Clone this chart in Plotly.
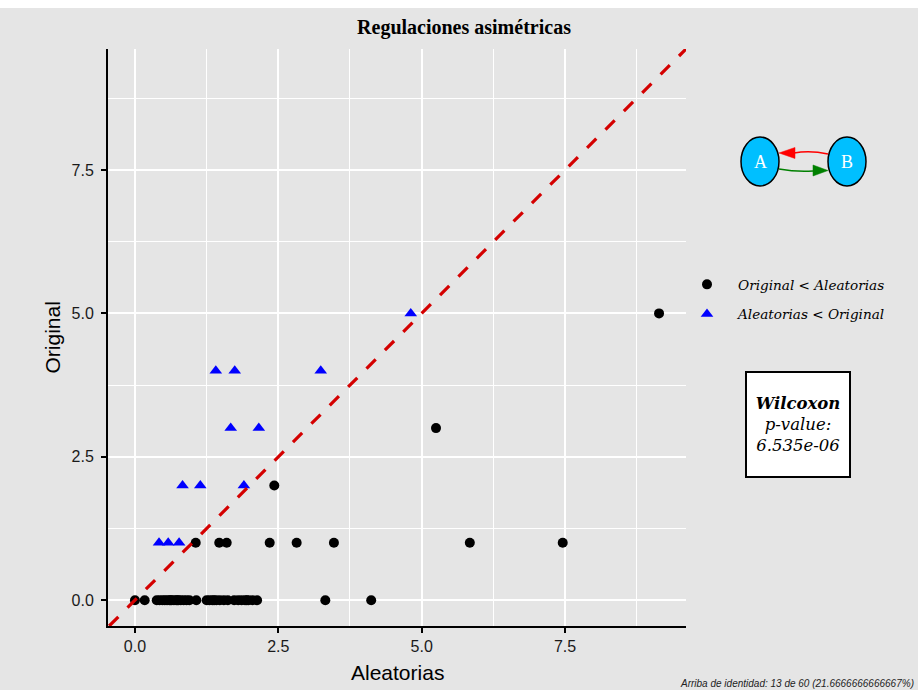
import plotly.graph_objects as go

# Points where the original count is below the randomised mean
orig_menor_x = [0.0, 0.17, 0.38, 0.43, 0.48, 0.52, 0.56, 0.60, 0.62, 0.64, 0.68, 0.72,
                0.74, 0.76, 0.80, 0.85, 0.90, 0.95, 1.07, 1.25, 1.30, 1.35, 1.38, 1.42,
                1.48, 1.55, 1.62, 1.73, 1.80, 1.86, 1.92, 1.95, 1.98, 2.05, 2.13, 3.32,
                4.12,
                1.06, 1.47, 1.60, 2.35, 2.82, 3.47, 5.84, 7.46,
                2.43, 5.25, 9.14]
orig_menor_y = [0] * 37 + [1] * 8 + [2, 3, 5]

# Points where the randomised mean is below the original count
alea_menor_x = [0.42, 0.58, 0.77, 0.83, 1.14, 1.90, 1.67, 2.16, 1.41, 1.74, 3.24, 4.81]
alea_menor_y = [1, 1, 1, 2, 2, 2, 3, 3, 4, 4, 4, 5]

# identity line across the panel
identidad = [-0.45, 9.61]
ticks_mayores = [0, 2.5, 5, 7.5]

titulo = "Regulaciones asimétricas"
nota = "Arriba de identidad: 13 de 60 (21.6666666666667%)"
wilcoxon = "<b><i>Wilcoxon</i></b><br><i>p-value:</i><br><i>6.535e-06</i>"

W, H = 918, 690
L, R, T, B = 108, 686, 49, 626


def px(xp):
    return (xp - L) / (R - L)


def py(yp):
    return (B - yp) / (B - T)


fig = go.Figure()

fig.add_trace(go.Scatter(
    x=orig_menor_x, y=orig_menor_y, mode="markers",
    name="<i>Original < Aleatorias</i>", legendgroup="a",
    marker=dict(symbol="circle", size=10, color="black"),
))
fig.add_trace(go.Scatter(
    x=alea_menor_x, y=alea_menor_y, mode="markers",
    name="<i>Aleatorias < Original</i>", legendgroup="b",
    marker=dict(symbol="triangle-up", size=11, color="#0000FF"),
))
fig.add_trace(go.Scatter(
    x=identidad, y=identidad, mode="lines", showlegend=False,
    line=dict(color="#D40000", width=3.2, dash="13px,13px"),
    hoverinfo="skip",
))

grid = dict(showgrid=True, gridcolor="white", gridwidth=1.6,
            minor=dict(showgrid=True, gridcolor="white", gridwidth=1.1, dtick=1.25),
            zeroline=False, showline=True, linecolor="black", linewidth=2,
            ticks="outside", ticklen=5, tickcolor="black", tickwidth=1.5,
            tickvals=ticks_mayores, tickformat=".1f",
            tickfont=dict(family="Liberation Sans", size=16, color="#1a1a1a"))

fig.update_xaxes(range=[-0.47, 9.61], **grid)
fig.update_yaxes(range=[-0.45, 9.61], ticklabelstandoff=4, **grid)

shapes = [
    # white strip along the top edge
    dict(type="rect", xref="paper", yref="paper", x0=px(0), x1=px(W), y0=py(8), y1=py(-2),
         fillcolor="white", line=dict(width=0), layer="below"),
    # nodes of the A/B diagram
    dict(type="circle", xref="paper", yref="paper", x0=px(741), x1=px(779), y0=py(186), y1=py(137),
         fillcolor="#00BFFF", line=dict(color="black", width=1.5)),
    dict(type="circle", xref="paper", yref="paper", x0=px(828), x1=px(866), y0=py(186), y1=py(137),
         fillcolor="#00BFFF", line=dict(color="black", width=1.5)),
]


def curva(p0, c, p1, color):
    path = "M {:.4f},{:.4f} Q {:.4f},{:.4f} {:.4f},{:.4f}".format(
        px(p0[0]), py(p0[1]), px(c[0]), py(c[1]), px(p1[0]), py(p1[1]))
    return dict(type="path", xref="paper", yref="paper", path=path,
                line=dict(color=color, width=1.6))


def punta(tip, b1, b2, color):
    path = "M {:.4f},{:.4f} L {:.4f},{:.4f} L {:.4f},{:.4f} Z".format(
        px(tip[0]), py(tip[1]), px(b1[0]), py(b1[1]), px(b2[0]), py(b2[1]))
    return dict(type="path", xref="paper", yref="paper", path=path,
                fillcolor=color, line=dict(color=color, width=0.5))


shapes += [
    curva((828, 154), (810, 150), (794, 153), "red"),
    punta((779, 153), (795, 147.5), (795, 158.5), "red"),
    curva((779, 169), (796, 172), (813, 171), "green"),
    punta((828, 170.5), (813, 165), (813, 176), "green"),
]


def nota_en(text, xp, yp, **kw):
    d = dict(text=text, x=px(xp), y=py(yp), xref="paper", yref="paper", showarrow=False,
             xanchor="center", yanchor="middle")
    d.update(kw)
    return d


annotations = [
    nota_en("A", 760, 162, font=dict(family="Liberation Serif", size=18, color="white")),
    nota_en("B", 847, 162, font=dict(family="Liberation Serif", size=18, color="white")),
    nota_en(wilcoxon, 798, 424.5, width=102, height=103, bgcolor="white",
            bordercolor="black", borderwidth=2, borderpad=0, align="center", valign="middle",
            font=dict(family="DejaVu Serif", size=16.5, color="black")),
    nota_en("Original", 52, (T + B) / 2, textangle=-90,
            font=dict(family="Liberation Sans", size=21, color="black")),
    nota_en("Aleatorias", (L + R) / 2, 672,
            font=dict(family="Liberation Sans", size=21, color="black")),
    nota_en("<i>" + nota + "</i>", 916, 683, xanchor="right",
            font=dict(family="Liberation Sans", size=10, color="#222222")),
]

fig.update_layout(
    width=W, height=H,
    margin=dict(l=L, r=W - R, t=T, b=H - B),
    paper_bgcolor="#E5E5E5", plot_bgcolor="#E5E5E5",
    title=dict(text="<b>" + titulo + "</b>", x=px(464), xref="paper", xanchor="center",
               y=1 - 27 / H, yanchor="middle",
               font=dict(family="Liberation Serif", size=20, color="black")),
    showlegend=True,
    legend=dict(x=px(676), y=py(269), xanchor="left", yanchor="top",
                bgcolor="rgba(0,0,0,0)", tracegroupgap=9, itemwidth=52,
                font=dict(family="DejaVu Serif", size=13.6, color="black")),
    shapes=shapes, annotations=annotations,
)

fig.write_html("out.html")
